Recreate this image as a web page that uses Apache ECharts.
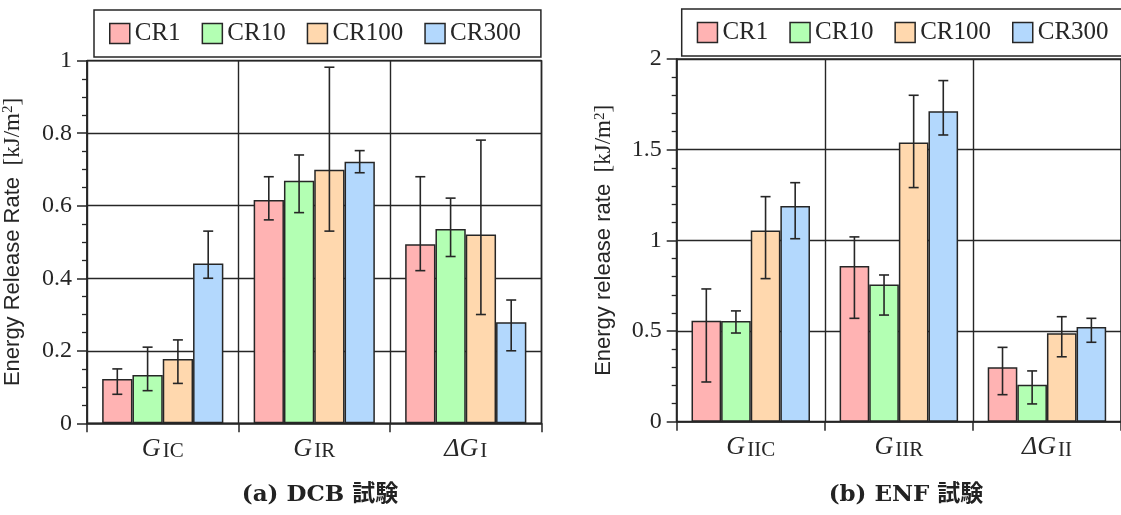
<!DOCTYPE html>
<html>
<head>
<meta charset="utf-8">
<script src="https://cdn.jsdelivr.net/npm/echarts@6/dist/echarts.min.js"></script>
<style>html,body{margin:0;padding:0;background:#fff}#c{width:1121px;height:515px}</style>
</head>
<body>
<div id="c"></div>
<script>
// ---- data ----
const seriesNames = ['CR1', 'CR10', 'CR100', 'CR300'];
const dcbCatMain = ['G', 'G', 'ΔG'];
const dcbCatSub = ['IC', 'IR', 'I'];
const enfCatMain = ['G', 'G', 'ΔG'];
const enfCatSub = ['IIC', 'IIR', 'II'];

const dcbCR1 = [0.122, 0.616, 0.494];
const dcbCR10 = [0.133, 0.669, 0.536];
const dcbCR100 = [0.177, 0.699, 0.521];
const dcbCR300 = [0.441, 0.721, 0.279];
const dcbCR1Err = [[0.080, 0.150], [0.561, 0.680], [0.421, 0.680]];
const dcbCR10Err = [[0.090, 0.210], [0.581, 0.740], [0.460, 0.621]];
const dcbCR100Err = [[0.110, 0.230], [0.530, 0.982], [0.300, 0.781]];
const dcbCR300Err = [[0.400, 0.530], [0.691, 0.752], [0.200, 0.340]];

const enfCR1 = [0.557, 0.859, 0.300];
const enfCR10 = [0.555, 0.756, 0.204];
const enfCR100 = [1.054, 1.539, 0.488];
const enfCR300 = [1.190, 1.712, 0.522];
const enfCR1Err = [[0.219, 0.732], [0.570, 1.019], [0.149, 0.410]];
const enfCR10Err = [[0.489, 0.611], [0.588, 0.809], [0.098, 0.280]];
const enfCR100Err = [[0.789, 1.241], [1.291, 1.800], [0.358, 0.579]];
const enfCR300Err = [[1.009, 1.318], [1.581, 1.881], [0.438, 0.570]];

const dcbYTicks = {min: 0, max: 1, interval: 0.2};
const enfYTicks = {min: 0, max: 2, interval: 0.5};
const captionA = '(a) DCB 試験';
const captionB = '(b) ENF 試験';
const yNameA = ['Energy Release Rate', '[kJ/m', '2', ']'];
const yNameB = ['Energy release rate', '[kJ/m', '2', ']'];

// ---- style ----
const colors = ['#ffb3b3', '#b3ffb3', '#ffd8ae', '#b3d8fd'];
const ink = '#262626';
const serif = '"Liberation Serif", "Times New Roman", serif';
const sans = '"Liberation Sans", Arial, sans-serif';

const chart = echarts.init(document.getElementById('c'), null, {renderer: 'canvas'});

const catData = (main, sub) => main.map((m, i) => m + '|' + sub[i]);
const catFormatter = (v) => { const p = v.split('|'); return '{g|' + p[0] + '}{s|' + p[1] + '}'; };
const catRich = {
  g: {fontFamily: serif, fontStyle: 'italic', fontSize: 26, color: ink},
  s: {fontFamily: serif, fontSize: 21, color: ink, padding: [6, 0, 0, 2]}
};
const nameRich = {
  a: {fontFamily: sans, fontSize: 22, color: ink},
  b: {fontFamily: serif, fontSize: 23, color: ink},
  c: {fontFamily: serif, fontSize: 15, color: ink, verticalAlign: 'top', padding: [0, 0, 8, 0]}
};

function makeAxes(gi, cats, yt, nameParts, nameGap, minorSplit) {
  const xAxis = {
    type: 'category', gridIndex: gi, data: cats,
    axisLine: {lineStyle: {color: ink, width: 1.5}},
    axisTick: {show: true, length: 9, lineStyle: {color: ink, width: 1.5}},
    axisLabel: {formatter: catFormatter, rich: catRich, margin: 12},
    splitLine: {show: true, lineStyle: {color: ink, width: 1.4}}
  };
  const yAxis = {
    type: 'value', gridIndex: gi, min: yt.min, max: yt.max, interval: yt.interval,
    name: '{a|' + nameParts[0] + '}{b|  ' + nameParts[1] + '}{c|' + nameParts[2] + '}{b|' + nameParts[3] + '}',
    nameLocation: 'middle', nameGap: nameGap, nameTextStyle: {rich: nameRich},
    axisLine: {show: true, lineStyle: {color: ink, width: 1.5}},
    axisTick: {show: true, length: 10, lineStyle: {color: ink, width: 1.5}},
    minorTick: {show: true, splitNumber: minorSplit, length: 5, lineStyle: {color: ink, width: 1.3}},
    axisLabel: {fontFamily: serif, fontSize: 24, color: ink, margin: 15},
    splitLine: {show: true, lineStyle: {color: ink, width: 1.4}}
  };
  return {xAxis, yAxis};
}

function barSeries(gi, vals, k) {
  return {
    type: 'bar', name: seriesNames[k], xAxisIndex: gi, yAxisIndex: gi, data: vals,
    barGap: '0%', barCategoryGap: '20%',
    itemStyle: {color: colors[k], borderColor: ink, borderWidth: 1.5},
    emphasis: {disabled: true}, z: 3
  };
}

function errSeries(gi, errs, k) {
  return {
    type: 'custom', name: 'err' + gi + k, xAxisIndex: gi, yAxisIndex: gi, z: 5,
    data: errs.map((e, i) => [i, e[0], e[1]]),
    renderItem: function (params, api) {
      const i = api.value(0);
      const lo = api.coord([i, api.value(1)]);
      const hi = api.coord([i, api.value(2)]);
      const band = api.size([1, 0])[0];
      const bw = band * 0.8 / 4;
      const x = lo[0] + (k - 1.5) * bw;
      const cap = 5;
      const st = {stroke: ink, lineWidth: 1.6, fill: null};
      return {type: 'group', children: [
        {type: 'line', shape: {x1: x, y1: lo[1], x2: x, y2: hi[1]}, style: st},
        {type: 'line', shape: {x1: x - cap, y1: lo[1], x2: x + cap, y2: lo[1]}, style: st},
        {type: 'line', shape: {x1: x - cap, y1: hi[1], x2: x + cap, y2: hi[1]}, style: st}
      ]};
    }
  };
}

const axA = makeAxes(0, catData(dcbCatMain, dcbCatSub), dcbYTicks, yNameA, 63, 4);
const axB = makeAxes(1, catData(enfCatMain, enfCatSub), enfYTicks, yNameB, 61, 5);

const dcbVals = [dcbCR1, dcbCR10, dcbCR100, dcbCR300];
const dcbErrs = [dcbCR1Err, dcbCR10Err, dcbCR100Err, dcbCR300Err];
const enfVals = [enfCR1, enfCR10, enfCR100, enfCR300];
const enfErrs = [enfCR1Err, enfCR10Err, enfCR100Err, enfCR300Err];

const series = [];
dcbVals.forEach((v, k) => series.push(barSeries(0, v, k)));
enfVals.forEach((v, k) => series.push(barSeries(1, v, k)));
dcbErrs.forEach((e, k) => series.push(errSeries(0, e, k)));
enfErrs.forEach((e, k) => series.push(errSeries(1, e, k)));

const legendBase = {
  data: seriesNames, orient: 'horizontal', icon: 'rect',
  itemWidth: 20, itemHeight: 20, itemGap: 21,
  itemStyle: {borderColor: ink, borderWidth: 1.5},
  textStyle: {fontFamily: serif, fontSize: 25, color: ink},
  borderColor: ink, borderWidth: 1.5, selectedMode: false
};

chart.setOption({
  animation: false,
  backgroundColor: '#ffffff',
  grid: [
    {left: 87, top: 60.7, right: 579.5, bottom: 91.7, show: true, borderColor: ink, borderWidth: 1.5, containLabel: false},
    {left: 676.7, top: 59, right: -7, bottom: 93.3, show: true, borderColor: ink, borderWidth: 1.5, containLabel: false}
  ],
  legend: [
    Object.assign({}, legendBase, {left: 94, top: 10, padding: [11, 20, 11, 15]}),
    Object.assign({}, legendBase, {left: 681.7, top: 9, width: 500, padding: [11, 22, 11, 15]})
  ],
  xAxis: [axA.xAxis, axB.xAxis],
  yAxis: [axA.yAxis, axB.yAxis],
  series: series,
  graphic: [
    {type: 'text', x: 320, y: 495, style: {text: captionA, textAlign: 'center', textVerticalAlign: 'middle', font: 'bold 23px "DejaVu Serif", "Noto Sans CJK JP", serif', fill: '#222'}},
    {type: 'text', x: 906, y: 495, style: {text: captionB, textAlign: 'center', textVerticalAlign: 'middle', font: 'bold 23px "DejaVu Serif", "Noto Sans CJK JP", serif', fill: '#222'}}
  ]
});
</script>
</body>
</html>
